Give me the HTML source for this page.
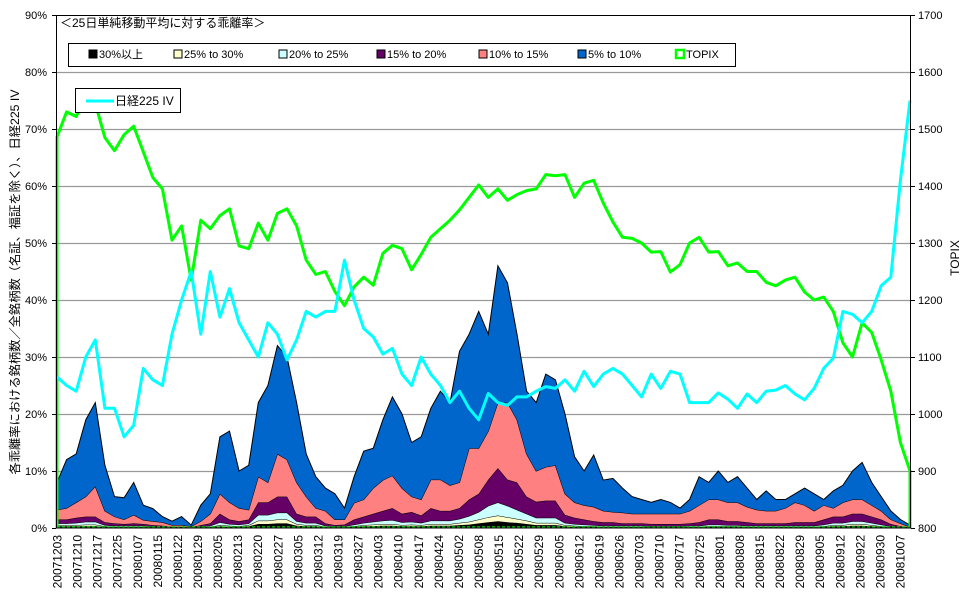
<!DOCTYPE html>
<html><head><meta charset="utf-8">
<style>
html,body{margin:0;padding:0;background:#fff;}
svg{display:block;font-family:"Liberation Sans","Noto Sans CJK JP",sans-serif;}
</style></head>
<body>
<svg id="chart" width="970" height="603" viewBox="0 0 970 603" xmlns="http://www.w3.org/2000/svg">
  <rect x="0" y="0" width="970" height="603" fill="#fff"/>
  <g id="grid"></g>
  <g id="areas"></g>
  <g id="lines"></g>
  <rect x="56.5" y="15.5" width="854" height="512.5" fill="none" stroke="#000" stroke-width="1"/>
  <g id="axes"></g>
  <text x="60" y="27" font-size="12" fill="#000">＜25日単純移動平均に対する乖離率＞</text>
  <g>
    <rect x="68.5" y="43.5" width="667" height="23" fill="#fff" stroke="#000"/>
    <g><rect x="89" y="50" width="8" height="8" fill="#000" stroke="#000"/><text x="99" y="58" font-size="11">30%以上</text></g>
    <g><rect x="174" y="50" width="8" height="8" fill="#FFFFCC" stroke="#000"/><text x="184" y="58" font-size="11">25% to 30%</text></g>
    <g><rect x="279" y="50" width="8" height="8" fill="#CCFFFF" stroke="#000"/><text x="289" y="58" font-size="11">20% to 25%</text></g>
    <g><rect x="377" y="50" width="8" height="8" fill="#660066" stroke="#000"/><text x="387" y="58" font-size="11">15% to 20%</text></g>
    <g><rect x="479" y="50" width="8" height="8" fill="#FF8080" stroke="#000"/><text x="489" y="58" font-size="11">10% to 15%</text></g>
    <g><rect x="578" y="50" width="8" height="8" fill="#0066CC" stroke="#000"/><text x="588" y="58" font-size="11">5% to 10%</text></g>
    <g><rect x="676" y="50" width="8" height="8" fill="#fff" stroke="#00FF00" stroke-width="2.5"/><text x="686" y="58" font-size="11">TOPIX</text></g>
  </g>
  <g>
    <rect x="75.5" y="88.5" width="105" height="24" fill="#fff" stroke="#000"/>
    <g><line x1="86" y1="101" x2="114" y2="101" stroke="#00FFFF" stroke-width="3"/><text x="115" y="105" font-size="12">日経225 IV</text></g>
  </g>
  <text transform="translate(19,282) rotate(-90)" text-anchor="middle" font-size="12" textLength="385" lengthAdjust="spacingAndGlyphs">各乖離率における銘柄数／全銘柄数（名証、福証を除く）、日経225 IV</text>
  <text transform="translate(959,258) rotate(-90)" text-anchor="middle" font-size="12">TOPIX</text>
</svg>
<script>
const dateLabels = ["20071203","20071210","20071217","20071225","20080107","20080115","20080122","20080129","20080205","20080213","20080220","20080227","20080305","20080312","20080319","20080327","20080403","20080410","20080417","20080424","20080502","20080508","20080515","20080522","20080529","20080605","20080612","20080619","20080626","20080703","20080710","20080717","20080725","20080801","20080808","20080815","20080822","20080829","20080905","20080912","20080922","20080930","20081007"];
const leftTicks = [0,10,20,30,40,50,60,70,80,90];
const rightTicks = [800,900,1000,1100,1200,1300,1400,1500,1600,1700];
const s30plus = [0.3,0.3,0.3,0.3,0.3,0.2,0.1,0.1,0.1,0.1,0.1,0.1,0,0,0,0.1,0.1,0.3,0.2,0.2,0.3,0.7,0.7,0.8,0.8,0.4,0.3,0.3,0.1,0.1,0.1,0.2,0.3,0.3,0.4,0.4,0.3,0.3,0.3,0.4,0.4,0.4,0.5,0.6,0.8,1.0,1.2,1.0,0.9,0.7,0.5,0.5,0.5,0.3,0.2,0.2,0.2,0.1,0.1,0.1,0.1,0.1,0.1,0.1,0.1,0.1,0.1,0.1,0.2,0.2,0.2,0.2,0.1,0.1,0.1,0.1,0.1,0.1,0.1,0.1,0.2,0.3,0.3,0.4,0.4,0.3,0.2,0.1,0,0];
const s25to30 = [0.2,0.2,0.2,0.3,0.3,0.1,0.1,0.1,0.1,0.1,0.1,0,0,0,0,0.1,0.1,0.2,0.2,0.1,0.2,0.6,0.6,0.7,0.7,0.3,0.2,0.2,0.1,0.1,0.1,0.1,0.2,0.3,0.3,0.3,0.2,0.3,0.2,0.3,0.3,0.3,0.4,0.5,0.7,0.9,1.0,0.9,0.7,0.6,0.4,0.4,0.4,0.2,0.2,0.1,0.1,0.1,0.1,0.1,0.1,0.1,0.1,0.1,0.1,0.1,0.1,0.1,0.1,0.1,0.1,0.1,0.1,0.1,0.1,0.1,0.1,0.1,0.1,0.1,0.1,0.2,0.2,0.3,0.3,0.2,0.1,0.1,0,0];
const s20to25 = [0.3,0.3,0.4,0.5,0.5,0.2,0.2,0.2,0.2,0.2,0.1,0.1,0,0,0,0.1,0.2,0.5,0.3,0.3,0.3,1.0,1.0,1.2,1.2,0.5,0.4,0.4,0.2,0.1,0.1,0.3,0.4,0.5,0.6,0.7,0.5,0.5,0.4,0.6,0.6,0.6,0.7,1.0,1.3,2.0,2.3,2.0,1.6,1.2,0.9,0.9,0.9,0.4,0.3,0.3,0.2,0.2,0.2,0.2,0.2,0.2,0.1,0.1,0.1,0.1,0.2,0.2,0.3,0.3,0.2,0.2,0.2,0.2,0.2,0.2,0.2,0.2,0.2,0.2,0.3,0.4,0.4,0.5,0.5,0.4,0.3,0.1,0.1,0];
const s15to20 = [0.7,0.7,0.9,0.9,0.9,0.5,0.4,0.3,0.4,0.3,0.2,0.2,0.2,0.2,0.1,0.2,0.4,1.5,0.8,0.6,0.7,2.2,2.2,2.8,2.8,1.3,1.1,1.1,0.4,0.2,0.3,0.9,1.1,1.4,1.7,2.1,1.5,1.7,1.3,2.2,1.7,1.7,1.9,2.9,3.2,4.6,6.0,4.6,4.8,3.0,2.8,3.0,3.0,1.4,1.1,0.9,0.7,0.6,0.6,0.4,0.4,0.4,0.4,0.4,0.4,0.4,0.4,0.6,0.9,0.9,0.7,0.7,0.6,0.4,0.4,0.4,0.4,0.6,0.6,0.6,0.9,1.1,1.1,1.3,1.3,1.1,0.9,0.4,0.2,0.1];
const s10to15 = [1.7,2,2.7,3.5,5.3,2,1.2,0.8,1.5,0.7,0.7,0.6,0.3,0.3,0.2,0.7,1.7,3.5,3,2.3,1.7,4.5,3.5,7.5,6.5,5.5,3.5,1.5,2.2,1,0.9,2.9,3,4.5,5.4,5.7,4.5,2.7,2.8,5,5.5,4.5,4.5,9,8,8.5,11.5,13.5,11,7.5,5.4,5.9,6.2,3.7,2.7,2.5,2.5,2,1.8,1.9,1.7,1.7,1.8,1.8,1.8,1.8,2.2,3,3.5,3.5,3.3,3.3,2.7,2.4,2.2,2.2,2.7,3.5,3,2,2.5,1.5,2.5,2.5,2.5,2,1.5,0.8,0.5,0.1];
const s5to10 = [4.8,8.5,8.5,13.5,14.7,8,3.5,3.8,5.7,2.6,2.2,1,0.7,1.5,0.2,2.8,3.5,10,12.5,6.5,7.8,13,17,19,18,14,7.5,5.5,4,4.5,2,4.6,8.5,7,10.6,13.8,13,9.5,11,12.5,15.5,14.5,23,20,24,17,24,21,15,11,12,16.3,15,14,8,6,9.1,5.4,5.9,4.3,3,2.5,2,2.5,2,1,2,5,3,5,3.5,4.5,3.3,1.8,3.5,2,1.5,1.5,3,3,1,3,3,5,6.5,4,2.5,1.5,0.7,0.3];
const topix = [1486,1530,1522,1555,1545,1485,1462,1490,1505,1460,1415,1395,1305,1330,1235,1340,1325,1348,1360,1295,1290,1335,1305,1352,1360,1330,1270,1245,1250,1215,1190,1223,1240,1226,1282,1296,1290,1253,1280,1310,1325,1340,1358,1380,1402,1380,1395,1375,1385,1392,1395,1420,1418,1420,1380,1405,1410,1370,1337,1310,1308,1300,1284,1285,1249,1262,1300,1310,1284,1285,1260,1265,1250,1250,1231,1225,1235,1240,1214,1200,1205,1180,1125,1100,1160,1143,1095,1040,950,900];
const nikkeiIV = [26.5,25,24,30,33,21,21,16,18,28,26,25,34,40,45,34,45,37,42,36,33,30,36,34,29.5,33,38,37,38,38,47,40,35,33.5,30.5,31.5,27,25,30,27,25,22,24,21,19,23.6,22,21.5,23,23,24,24.8,24.5,26,24,27.5,24.8,27,28,27,25,23,27,24.5,27.5,27,22,22,22,23.7,22.6,21,23.5,22,24,24.2,25,23.5,22.5,24.5,28,29.8,38,37.5,36,38,42.5,44,61,75];

const NS = "http://www.w3.org/2000/svg";
const X0 = 57, X1 = 910, Y0 = 528;
const N = topix.length;
function xS(i){ return X0 + i*(X1-X0)/(N-1); }
function yL(v){ return Y0 - v*(513/90); }
function yR(v){ return Y0 - (v-800)*(513/900); }
function xLab(k){ return 57 + k*(843/(dateLabels.length-1)); }
function mk(tag, attrs, parent){ const e=document.createElementNS(NS,tag); for(const k in attrs) e.setAttribute(k, attrs[k]); parent.appendChild(e); return e; }

const grid = document.getElementById('grid');
leftTicks.forEach(function(t){
  if(t===0||t===90) return;
  const l = mk('line',{x1:56,x2:911,y1:yL(t)+0.5,y2:yL(t)+0.5,stroke:'#999','stroke-width':1.2},grid);
  
  
});

const areas = document.getElementById('areas');
const series = [s30plus,s25to30,s20to25,s15to20,s10to15,s5to10];
const colors = ['#000000','#FFFFCC','#CCFFFF','#660066','#FF8080','#0066CC'];
const names = ['area-30plus','area-25-30','area-20-25','area-15-20','area-10-15','area-5-10'];
let base = new Array(N).fill(0);
series.forEach(function(s, si){
  const top = base.map(function(b,i){ return b + s[i]; });
  let d = '';
  for(let i=0;i<N;i++) d += (i?'L':'M') + xS(i).toFixed(1) + ',' + yL(top[i]).toFixed(1);
  for(let i=N-1;i>=0;i--) d += 'L' + xS(i).toFixed(1) + ',' + yL(base[i]).toFixed(1);
  d += 'Z';
  const p = mk('path',{d:d,fill:colors[si],stroke:'none'},areas);
  
  
  let dl = '';
  for(let i=0;i<N;i++) dl += (i?'L':'M') + xS(i).toFixed(1) + ',' + yL(top[i]).toFixed(1);
  const o = mk('path',{d:dl,fill:'none',stroke:'#000','stroke-width':1},areas);
  
  
  base = top;
});

const lines = document.getElementById('lines');
let td = 'M' + X0 + ',' + Y0;
for(let i=0;i<N;i++) td += 'L' + xS(i).toFixed(1) + ',' + yR(topix[i]).toFixed(1);
td += 'L' + X1 + ',' + Y0;
const tp = mk('path',{d:td,fill:'none',stroke:'#00FF00','stroke-width':3,'stroke-linejoin':'round'},lines);


const tb = mk('line',{x1:X0,x2:X1,y1:527,y2:527,stroke:'#00CC00','stroke-width':1.5,'stroke-dasharray':'3,2'},lines);


let iv = '';
for(let i=0;i<N;i++) iv += (i?'L':'M') + xS(i).toFixed(1) + ',' + yL(nikkeiIV[i]).toFixed(1);
const ivp = mk('path',{d:iv,fill:'none',stroke:'#00FFFF','stroke-width':3,'stroke-linejoin':'round'},lines);



const axes = document.getElementById('axes');
leftTicks.forEach(function(t){
  const tx = mk('text',{x:47,y:yL(t)+4,'text-anchor':'end','font-size':11},axes);
  tx.textContent = t + '%';
  
  
  const tk = mk('line',{x1:52,x2:56,y1:yL(t)+0.5,y2:yL(t)+0.5,stroke:'#000'},axes);
  
  
});
rightTicks.forEach(function(t){
  const tx = mk('text',{x:918,y:yR(t)+4,'font-size':11},axes);
  tx.textContent = String(t);
  
  
  const tk = mk('line',{x1:911,x2:915,y1:yR(t)+0.5,y2:yR(t)+0.5,stroke:'#000'},axes);
  
  
});
dateLabels.forEach(function(lbl,k){
  const x = xLab(k);
  const tx = mk('text',{transform:'translate('+(x+4.5).toFixed(1)+',535) rotate(-90)','text-anchor':'end','font-size':12},axes);
  tx.textContent = lbl;
  
  
});
</script>
</body></html>
